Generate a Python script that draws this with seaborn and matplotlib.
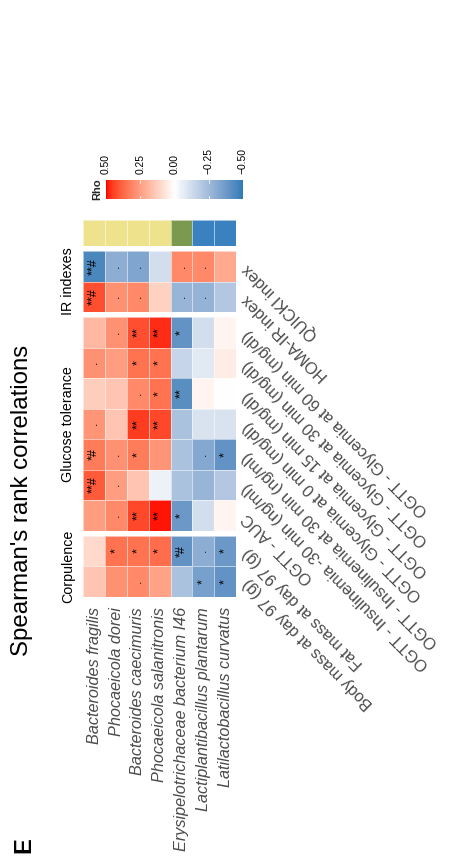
import numpy as np
import pandas as pd
import matplotlib
matplotlib.use("Agg")
import matplotlib.pyplot as plt
import matplotlib.colors as mcolors
from matplotlib.cm import ScalarMappable
import seaborn as sns

# ---------------- data ----------------
bacteria = [
    "Bacteroides fragilis",
    "Phocaeicola dorei",
    "Bacteroides caecimuris",
    "Phocaeicola salanitronis",
    "Erysipelotrichaceae bacterium I46",
    "Lactiplantibacillus plantarum",
    "Latilactobacillus curvatus",
]
variables = [
    "Body mass at day 97 (g)",
    "Fat mass at day 97 (g)",
    "OGTT - AUC",
    "OGTT - Insulinemia -30 min (ng/ml)",
    "OGTT - Insulinemia at 30 min (ng/ml)",
    "OGTT - Glycemia at 0 min (mg/dl)",
    "OGTT - Glycemia at 15 min (mg/dl)",
    "OGTT - Glycemia at 30 min (mg/dl)",
    "OGTT - Glycemia at 60 min (mg/dl)",
    "HOMA-IR index",
    "QUICKI index",
]
groups = ["Corpulence"] * 2 + ["Glucose tolerance"] * 7 + ["IR indexes"] * 2
group_order = ["IR indexes", "Glucose tolerance", "Corpulence"]

# Spearman rho, one list per bacterium, in the order of `variables`
rho_fragilis      = [0.15, 0.10, 0.25, 0.40, 0.33, 0.27, 0.13, 0.28, 0.18, 0.42, -0.45]
rho_dorei         = [0.28, 0.35, 0.30, 0.25, 0.28, 0.15, 0.15, 0.25, 0.28, 0.28, -0.30]
rho_caecimuris    = [0.30, 0.35, 0.43, 0.15, 0.33, 0.45, 0.30, 0.35, 0.42, 0.30, -0.33]
rho_salanitronis  = [0.24, 0.36, 0.49, -0.05, 0.27, 0.43, 0.35, 0.35, 0.47, 0.12, -0.12]
rho_erysipelo     = [-0.22, -0.40, -0.38, -0.22, -0.22, -0.22, -0.42, -0.15, -0.40, -0.27, 0.30]
rho_plantarum     = [-0.35, -0.30, -0.12, -0.27, -0.32, -0.10, 0.03, -0.08, -0.12, -0.28, 0.30]
rho_curvatus      = [-0.40, -0.38, 0.03, -0.20, -0.40, -0.10, 0.00, 0.05, 0.03, -0.20, 0.22]

sig_fragilis      = ["", "", "", "**#", "*#", ".", "", ".", "", "**#", "**#"]
sig_dorei         = ["", "*", ".", ".", ".", "", "", "", ".", ".", "."]
sig_caecimuris    = [".", "*", "**", "", "*", "**", ".", "*", "**", ".", "."]
sig_salanitronis  = ["", "*", "**", "", "", "**", "*", "*", "**", "", ""]
sig_erysipelo     = ["", "*#", "*", "", "", "", "**", "", "*", ".", "."]
sig_plantarum     = ["*", ".", "", "", ".", "", "", "", "", ".", "."]
sig_curvatus      = ["*", "*", "", "", "*", "", "", "", "", "", ""]

family = ["Bacteroidaceae"] * 4 + ["Erysipelotrichaceae"] + ["Lactobacillaceae"] * 2
family_levels = ["Bacteroidaceae", "Erysipelotrichaceae", "Lactobacillaceae"]
family_colors = ["#EEE38C", "#7B9A4F", "#3A82BF"]

cbar_ticks = [0.5, 0.25, 0.0, -0.25, -0.5]
cbar_ticklabels = ["0.50", "0.25", "0.00", "\u22120.25", "\u22120.50"]

rho_df = pd.DataFrame(
    [rho_fragilis, rho_dorei, rho_caecimuris, rho_salanitronis,
     rho_erysipelo, rho_plantarum, rho_curvatus],
    index=bacteria, columns=variables)
sig_df = pd.DataFrame(
    [sig_fragilis, sig_dorei, sig_caecimuris, sig_salanitronis,
     sig_erysipelo, sig_plantarum, sig_curvatus],
    index=bacteria, columns=variables)

# ---------------- colour map (LAB interpolation, like circlize) ----------------
_M = np.array([[0.4124564, 0.3575761, 0.1804375],
               [0.2126729, 0.7151522, 0.0721750],
               [0.0193339, 0.1191920, 0.9503041]])
_WHITE = np.array([0.95047, 1.0, 1.08883])
_D = 6 / 29


def to_lab(c):
    rgb = np.array(mcolors.to_rgb(c))
    lin = np.where(rgb <= 0.04045, rgb / 12.92, ((rgb + 0.055) / 1.055) ** 2.4)
    t = (_M @ lin) / _WHITE
    f = np.where(t > _D ** 3, np.cbrt(t), t / (3 * _D * _D) + 4 / 29)
    return np.array([116 * f[1] - 16, 500 * (f[0] - f[1]), 200 * (f[1] - f[2])])


def from_lab(lab):
    L, a, b = lab
    fy = (L + 16) / 116
    f = np.array([fy + a / 500, fy, fy - b / 200])
    t = np.where(f > _D, f ** 3, 3 * _D * _D * (f - 4 / 29))
    lin = np.clip(np.linalg.inv(_M) @ (t * _WHITE), 0, 1)
    rgb = np.where(lin <= 0.0031308, 12.92 * lin, 1.055 * lin ** (1 / 2.4) - 0.055)
    return np.clip(rgb, 0, 1)


lab_blue, lab_white, lab_red = to_lab("#2C7BB6"), to_lab("#FFFFFF"), to_lab("#FF0000")
cols = []
for v in np.linspace(-1, 1, 256):
    if v < 0:
        cols.append(from_lab(lab_white + (-v) * (lab_blue - lab_white)))
    else:
        cols.append(from_lab(lab_white + v * (lab_red - lab_white)))
cmap = mcolors.ListedColormap(cols)

# ---------------- figure ----------------
sns.set_theme(style="white")
plt.rcParams["font.family"] = ["Liberation Sans", "DejaVu Sans"]

W, H = 466, 867
fig = plt.figure(figsize=(W / 100, H / 100), dpi=100)


def px_axes(x0, y0, x1, y1):
    return fig.add_axes([x0 / W, 1 - y1 / H, (x1 - x0) / W, (y1 - y0) / H])


X0, X1 = 83.3, 236.0
block_px = {"IR indexes": (251, 312), "Glucose tolerance": (317, 530.5),
            "Corpulence": (535.5, 596.5)}
grid_col = (1, 1, 1, 0.55)
label_grey = "#4A4A4A"

for gname in group_order:
    y0, y1 = block_px[gname]
    vars_b = [v for v, g in zip(variables, groups) if g == gname][::-1]
    data = rho_df.T.loc[vars_b]
    marks = sig_df.T.loc[vars_b]
    ax = px_axes(X0, y0, X1, y1)
    sns.heatmap(data, ax=ax, cmap=cmap, vmin=-0.5, vmax=0.5, cbar=False,
                linewidths=0.6, linecolor=grid_col,
                xticklabels=False, yticklabels=False)
    ax.set_xlabel("")
    ax.set_ylabel("")
    for i, v in enumerate(vars_b):
        for j, b in enumerate(bacteria):
            s = marks.loc[v, b]
            if s:
                ax.text(j + 0.5, i + 0.5, s, rotation=90, ha="center", va="center",
                        rotation_mode="anchor", fontsize=9, color="black")
        ax.annotate(v, xy=(len(bacteria), i + 0.5), xycoords="data",
                    xytext=(6.5, 0), textcoords="offset points",
                    rotation=135, rotation_mode="anchor", ha="right", va="center",
                    fontsize=11.8, color=label_grey, annotation_clip=False)
    fig.text(68 / W, 1 - ((y0 + y1) / 2) / H, gname, rotation=90,
             ha="center", va="center", fontsize=10.3, color="black")
    if gname == "Corpulence":
        for j, b in enumerate(bacteria):
            ax.annotate(b, xy=(j + 0.5, len(vars_b)), xycoords="data",
                        xytext=(0, -7.5), textcoords="offset points",
                        rotation=90, rotation_mode="anchor", ha="right", va="center",
                        fontsize=11.7, style="italic", color=label_grey,
                        annotation_clip=False)

# row annotation (family)
ax_a = px_axes(X0, 220, X1, 246)
fam_codes = pd.DataFrame([[family_levels.index(f) for f in family]], columns=bacteria)
sns.heatmap(fam_codes, ax=ax_a, cmap=mcolors.ListedColormap(family_colors),
            vmin=-0.5, vmax=2.5, cbar=False, linewidths=0.6, linecolor=grid_col,
            xticklabels=False, yticklabels=False)
ax_a.set_xlabel("")
ax_a.set_ylabel("")

# colour bar
cax = px_axes(106, 180, 243, 199)
sm = ScalarMappable(norm=mcolors.Normalize(-0.5, 0.5), cmap=cmap)
cb = fig.colorbar(sm, cax=cax, orientation="horizontal")
cb.outline.set_visible(False)
cax.invert_xaxis()
cax.xaxis.set_ticks_position("top")
cb.set_ticks(cbar_ticks)
cb.set_ticklabels(cbar_ticklabels)
cax.tick_params(axis="x", length=0, pad=4, labelsize=7.4, labelrotation=90,
                labelcolor="black")
for t in cbar_ticks[1:-1]:
    cax.axvline(t, ymin=0, ymax=0.15, color="white", lw=0.6)
    cax.axvline(t, ymin=0.85, ymax=1, color="white", lw=0.6)
fig.text(97 / W, 1 - 189 / H, "Rho", rotation=90, ha="center", va="center",
         fontsize=8, fontweight="bold")

# title and panel letter
fig.text(22 / W, 1 - 500 / H, "Spearman's rank correlations", rotation=90,
         ha="center", va="center", fontsize=17.3, color="black")
fig.text(24 / W, 1 - 845 / H, "E", rotation=90, ha="center", va="center",
         fontsize=17, fontweight="bold", color="black")

fig.savefig("out.png", dpi=100)
